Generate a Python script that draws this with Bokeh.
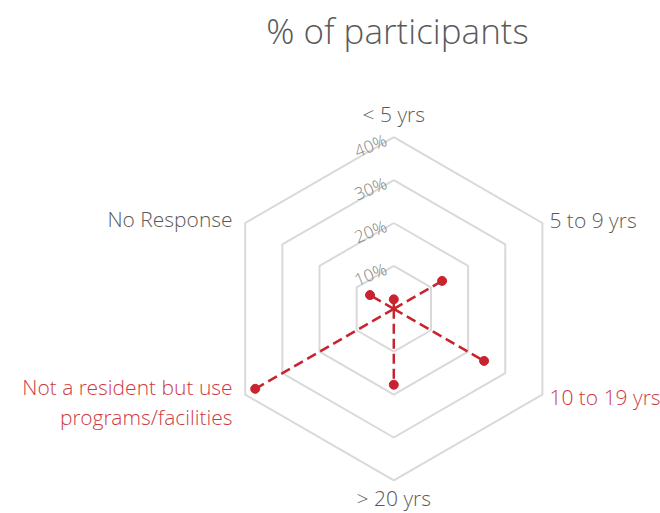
import math
from bokeh.plotting import figure
from bokeh.models import Range1d
from bokeh.core.properties import value
from bokeh.embed import file_html
from bokeh.resources import INLINE

# ---- data ----
categories = ["< 5 yrs", "5 to 9 yrs", "10 to 19 yrs", "> 20 yrs",
              "Not a resident but use\nprograms/facilities", "No Response"]
values = [2.2, 13.0, 24.3, 17.7, 37.3, 6.4]
highlight = [False, False, True, False, True, False]
ticks = [10, 20, 30, 40]
tick_labels = ["10%", "20%", "30%", "40%"]
title_text = "% of participants"

# ---- style / layout ----
W, H = 660, 513
K = 4.29                  # px per percent
CX, CY = 393.3, 308.3     # centre of radar in figure px (from left, from top)
RED = "#c8232f"
RED_TEXT = "#cf3a42"
GRAY_TEXT = "#5a5a5a"
TICK_TEXT = "#858585"
GRID = "#d9d9d9"
FONT = "Open Sans Light"

p = figure(width=W, height=H, output_backend="svg", toolbar_location=None,
           x_range=Range1d(-CX, W - CX), y_range=Range1d(-(H - CY), CY),
           min_border=0, outline_line_color=None)
p.axis.visible = False
p.grid.visible = False
p.background_fill_color = "white"
p.border_fill_color = "white"

n = len(categories)
angles = [math.pi / 2 - 2 * math.pi * i / n for i in range(n)]

# grid hexagons
for t in ticks:
    r = t * K
    xs = [r * math.cos(a) for a in angles] + [r * math.cos(angles[0])]
    ys = [r * math.sin(a) for a in angles] + [r * math.sin(angles[0])]
    p.line(xs, ys, line_color=GRID, line_width=2)

# tick labels just left of the top vertex of each ring
tx = [-8 for t in ticks]
ty = [t * K - 2 for t in ticks]
p.text(tx, ty, text=tick_labels, angle=math.radians(22), text_align="right",
       text_baseline="alphabetic", text_font=value(FONT),
       text_font_size="17px", text_color=TICK_TEXT)

# data: dashed spokes from centre + dots
px = [v * K * math.cos(a) for v, a in zip(values, angles)]
py = [v * K * math.sin(a) for v, a in zip(values, angles)]
p.segment(x0=[0] * n, y0=[0] * n, x1=px, y1=py, line_color=RED,
          line_width=2.5, line_dash="10 5")
p.scatter(px, py, size=9, fill_color=RED, line_color=RED)

# category labels
R = ticks[-1] * K
lab_dx = [0, 7, 7, 0, -12.6, -12.6]
lab_dy = [23, 3.5, -2.7, -17.6, -7.5, 4.5]
aligns = ["center", "left", "left", "center", "right", "right"]
LINE_GAP = 30
for i in range(n):
    lines = categories[i].split("\n")
    x = R * math.cos(angles[i]) + lab_dx[i]
    y0 = R * math.sin(angles[i]) + lab_dy[i] + (len(lines) - 1) * LINE_GAP / 2
    for j, ln in enumerate(lines):
        p.text([x], [y0 - j * LINE_GAP], text=[ln], text_align=aligns[i],
               text_baseline="middle", text_font=value(FONT),
               text_font_size="21px",
               text_color=RED_TEXT if highlight[i] else GRAY_TEXT)

# title
p.text([3.7], [278.3], text=[title_text], text_align="center",
       text_baseline="middle", text_font=value(FONT),
       text_font_size="35px", text_color=GRAY_TEXT)

open("out.html", "w").write(file_html(p, INLINE))
